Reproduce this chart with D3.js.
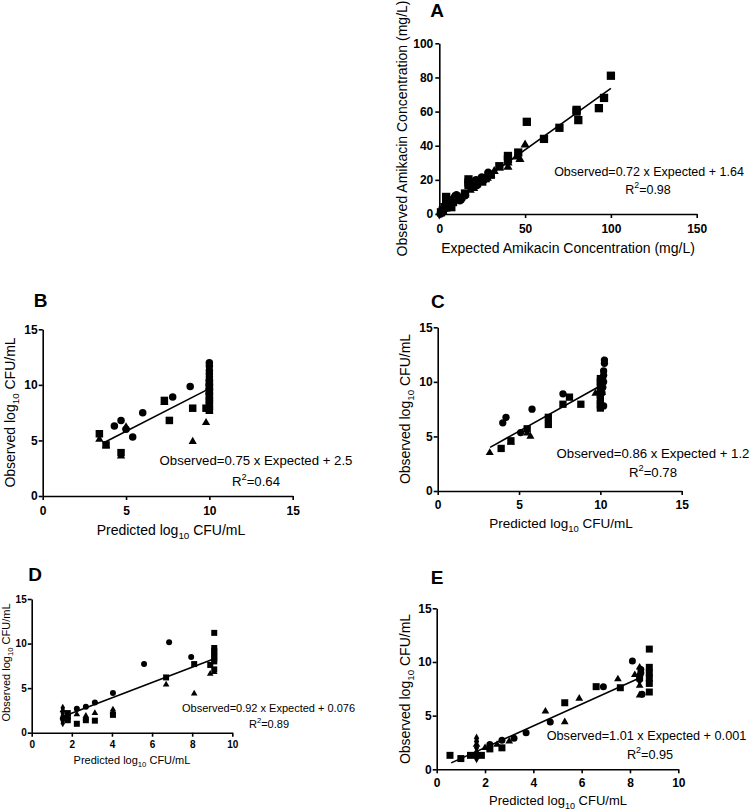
<!DOCTYPE html>
<html><head><meta charset="utf-8">
<script src="https://cdn.jsdelivr.net/npm/d3@7"></script>
<style>body{margin:0;background:#fff}svg{display:block}text{font-family:"Liberation Sans",Arial,sans-serif;fill:#000}</style>
</head><body><svg width="750" height="810"></svg>
<script>
// ---------- Panel A data (Expected vs Observed amikacin, mg/L) ----------
const aSquare = [[100,81],[96,68],[93,62],[80,61],[80,60],[81,55],[70,50.5],[61,44],[51,54],[46,36],[40,34],[40,32],[35,28],[30,23],[27,21],[25,19],[22,18],[20,17],[17,20.3],[17,18.5],[17,17],[15,12],[12,9],[10,10],[8,7],[6,6],[5,5],[4,10],[4,8],[3,4],[2,2],[1,1],[7,4],[5,7],[6,8]];
const aTriangle = [[50,40.5],[47,32],[45,33.5],[40,27.5],[40,30],[35,27],[30,23],[28,21],[25,20],[20,15],[18,14],[10,8],[6,5],[4,3],[2,1.5],[21,17],[32,25]];
const aCircle = [[28.5,24.2],[24.7,21.4],[21.4,19.9],[26,20],[22,17],[20,16],[15,11],[13,9],[12,8],[10,11],[9,10],[7,7],[5,4],[3,3],[1,1],[11,9]];
const aDiamond = [[0,0],[1,0.5],[2,1],[3,2],[0.5,1]];
const aFit = [[0,1.64],[100,73.64]];

// ---------- Panel B ----------
const bSquare = [[3.4,5.6],[3.8,4.6],[4.7,3.9],[7.3,8.6],[7.6,6.8],[9.0,7.9],[9.8,7.9],[10,7.8],[10,8.2],[10,8.6],[10,9.0],[10,9.4],[10,9.8],[10,10.2]];
const bTriangle = [[3.4,5.1],[3.8,4.5],[4.7,3.6],[5.0,6.2],[7.3,8.4],[9.0,4.9],[9.8,6.6],[10,7.6],[10,8.0],[10,8.8]];
const bCircle = [[4.3,6.3],[4.7,6.8],[5.0,6.0],[5.4,5.3],[6.0,7.5],[7.8,8.9],[8.85,9.85],[10,12],[10,11.7],[10,11.3],[10,11.0],[10,10.7],[10,10.4],[10,10.0],[10,9.6],[10,9.2]];
const bDiamond = [[10,11.9],[10,11.5],[10,10.9],[10,10.5],[10,9.9]];
const bFit = [[3.6,4.75],[9.85,9.55]];

// ---------- Panel C ----------
const cSquare = [[3.9,3.9],[4.5,4.6],[5.5,5.7],[6.8,6.75],[6.8,6.1],[7.7,7.95],[8.1,8.6],[8.8,7.95],[10,10.3],[10,10.0],[10,9.6],[10,9.2],[10,8.8],[10,8.4],[10,8.0],[10,7.6]];
const cTriangle = [[3.2,3.5],[4.5,4.45],[5.5,5.3],[5.7,5.0],[9.7,8.95],[10,7.8],[10,8.2],[10.1,9.0]];
const cCircle = [[4.0,6.25],[4.2,6.75],[5.1,5.35],[5.8,7.5],[7.7,8.9],[10.25,12.0],[10.25,11.7],[10.2,11.0],[10.2,10.6],[10.2,10.0],[10.15,9.5],[10.2,7.8],[10.1,9.0]];
const cDiamond = [[10.2,11.9],[10.2,10.3],[10.1,9.8]];
const cFit = [[3.22,4.0],[9.98,9.62]];

// ---------- Panel D ----------
const dSquare = [[1.8,2.2],[1.8,1.8],[1.8,1.4],[2.25,1.0],[2.7,1.4],[3.15,1.35],[4.05,2.0],[6.7,6.2],[8.1,7.7],[8.9,7.6],[9.1,11.2],[9.1,9.5],[9.1,9.2],[9.1,8.9],[9.1,8.6],[9.1,8.3],[9.1,8.0],[9.1,7.1]];
const dTriangle = [[1.55,2.5],[2.25,2.05],[2.7,1.9],[2.7,1.6],[3.15,2.2],[4.05,2.6],[4.05,2.3],[6.7,5.4],[8.1,4.4],[8.9,6.6],[9.1,6.8]];
const dCircle = [[2.25,2.7],[2.7,2.9],[3.15,3.4],[4.05,4.45],[5.6,7.7],[6.85,10.15],[7.95,8.5],[1.55,1.6]];
const dDiamond = [[1.55,2.8],[1.55,2.2],[1.55,1.9],[1.55,1.3],[1.55,1.05]];
const dFit = [[1.5,1.75],[9.1,8.3]];

// ---------- Panel E ----------
const eSquare = [[0.55,1.3],[1.0,1.0],[1.4,1.3],[1.85,1.3],[2.2,1.9],[2.7,2.0],[5.3,6.2],[6.6,7.7],[7.6,7.6],[8.8,11.2],[8.8,9.5],[8.8,9.0],[8.8,8.5],[8.8,8.0],[8.8,7.2],[8.4,8.5]];
const eTriangle = [[1.65,2.3],[1.65,1.6],[2.0,2.0],[2.5,2.3],[3.0,2.6],[4.5,5.4],[5.3,4.4],[5.9,6.6],[7.5,8.4],[8.2,8.8],[8.4,9.5],[8.4,8.9],[8.4,7.8],[8.4,6.9]];
const eCircle = [[2.2,2.3],[2.7,2.7],[3.2,2.9],[3.7,3.4],[4.7,4.4],[6.9,7.7],[8.1,10.1],[8.45,9.3],[8.45,9.0],[8.4,8.7],[8.5,7.0],[1.65,1.3]];
const eDiamond = [[1.65,2.9],[1.65,2.6],[1.65,2.0],[1.65,1.0],[8.4,8.2]];
const eFit = [[0.6,0.6],[8.35,8.45]];

// ---------- labels ----------
const panelLetters = ["A","B","C","D","E"];
const equations = ["Observed=0.72 x Expected + 1.64","Observed=0.75 x Expected + 2.5","Observed=0.86 x Expected + 1.2","Observed=0.92 x Expected + 0.076","Observed=1.01 x Expected + 0.001"];
const r2Values = ["0.98","0.64","0.78","0.89","0.95"];
const ticksA_x = [0,50,100,150], ticksA_y = [0,20,40,60,80,100];
const ticks15 = [0,5,10,15], ticks10 = [0,2,4,6,8,10];

// ---------- layout ----------
const svg = d3.select("svg");
const panels = [
 {left:439.3,right:696.7,top:43.3,bottom:214, xd:[0,150], yd:[0,100], xt:ticksA_x, yt:ticksA_y,
  data:[aSquare,aTriangle,aCircle,aDiamond], fit:aFit, ms:8.3, tickFs:12, xPad:6.5, yPad:2,
  letter:[437,17], eq:[649,175.5,12.5], r2:[648,193.5],
  xTitle:{x:568,y:253,fs:14,text:"Expected Amikacin Concentration (mg/L)"},
  yTitle:{x:406.5,y:128.5,fs:14,text:"Observed Amikacin Concentration (mg/L)"}},
 {left:42.7,right:292.7,top:329.3,bottom:496, xd:[0,15], yd:[0,15], xt:ticks15, yt:ticks15,
  data:[bSquare,bTriangle,bCircle,bDiamond], fit:bFit, ms:7.5, tickFs:12, xPad:6, yPad:1,
  letter:[40.7,307], eq:[256,464.5,13.2], r2:[256,485.5],
  xTitle:{x:171,y:535,fs:14,log:true,pre:"Predicted log"},
  yTitle:{x:15,y:412.5,fs:14,log:true,pre:"Observed log"}},
 {left:437.7,right:681.7,top:327.3,bottom:491, xd:[0,15], yd:[0,15], xt:ticks15, yt:ticks15,
  data:[cSquare,cTriangle,cCircle,cDiamond], fit:cFit, ms:7.3, tickFs:12, xPad:5, yPad:1,
  letter:[437.8,308], eq:[653,458.3,13.2], r2:[653,476.7],
  xTitle:{x:561,y:528,fs:13.5,log:true,pre:"Predicted log"},
  yTitle:{x:410,y:409,fs:14,log:true,pre:"Observed log"}},
 {left:31.7,right:232.3,top:599,bottom:732.7, xd:[0,10], yd:[0,15], xt:ticks10, yt:ticks15,
  data:[dSquare,dTriangle,dCircle,dDiamond], fit:dFit, ms:6, tickFs:10, xPad:4, yPad:1,
  letter:[35,580.5], eq:[268.5,711.5,11], r2:[269,728],
  xTitle:{x:132,y:764,fs:11,log:true,pre:"Predicted log"},
  yTitle:{x:10,y:662.5,fs:11,log:true,pre:"Observed log"}},
 {left:436.7,right:678.3,top:608.3,bottom:769.3, xd:[0,10], yd:[0,15], xt:ticks10, yt:ticks15,
  data:[eSquare,eTriangle,eCircle,eDiamond], fit:eFit, ms:7, tickFs:12, xPad:5.5, yPad:1,
  letter:[437,584], eq:[646.5,740,12.7], r2:[650,759],
  xTitle:{x:558,y:805,fs:13,log:true,pre:"Predicted log"},
  yTitle:{x:410,y:689,fs:14,log:true,pre:"Observed log"}}
];
const symbolTypes = [d3.symbolSquare, d3.symbolTriangle, d3.symbolCircle, d3.symbolDiamond];
const areaFactor = [1, 0.5, Math.PI/4, 0.5];

function addTitle(g, t, rotate){
  const txt = g.append("text").attr("text-anchor","middle").attr("font-size",t.fs)
    .attr("transform", rotate ? `translate(${t.x},${t.y}) rotate(-90)` : `translate(${t.x},${t.y})`);
  if(t.log){
    txt.append("tspan").text(t.pre);
    txt.append("tspan").attr("font-size",t.fs*0.7).attr("dy",t.fs*0.27).text("10");
    txt.append("tspan").attr("dy",-t.fs*0.27).text(" CFU/mL");
  } else {
    txt.text(t.text);
  }
}

panels.forEach((p,i)=>{
  const x = d3.scaleLinear().domain(p.xd).range([p.left,p.right]);
  const y = d3.scaleLinear().domain(p.yd).range([p.bottom,p.top]);
  const g = svg.append("g");
  // points
  p.data.forEach((arr,k)=>{
    const sym = d3.symbol().type(symbolTypes[k]).size(p.ms*p.ms*areaFactor[k]*(k===1?1.05:1));
    g.append("g").selectAll("path").data(arr).join("path")
      .attr("transform",d=>`translate(${x(d[0])},${y(d[1])})`)
      .attr("d",sym).attr("fill","#000");
  });
  // fit line
  g.append("path").attr("d", d3.line().x(d=>x(d[0])).y(d=>y(d[1]))(p.fit))
    .attr("stroke","#000").attr("stroke-width",1.6).attr("fill","none");
  // axes
  const xa = g.append("g").attr("transform",`translate(0,${p.bottom})`)
    .call(d3.axisBottom(x).tickValues(p.xt).tickSize(4).tickSizeOuter(0).tickPadding(p.xPad).tickFormat(d3.format("d")));
  const ya = g.append("g").attr("transform",`translate(${p.left},0)`)
    .call(d3.axisLeft(y).tickValues(p.yt).tickSize(4).tickSizeOuter(0).tickPadding(p.yPad).tickFormat(d3.format("d")));
  [xa,ya].forEach(a=>{
    a.select(".domain").attr("stroke","#000").attr("stroke-width",1.6);
    a.selectAll(".tick line").attr("stroke","#000").attr("stroke-width",1.6);
    a.selectAll(".tick text").attr("fill","#000").attr("font-size",p.tickFs).attr("font-weight","bold")
      .attr("font-family","'Liberation Sans',Arial,sans-serif");
  });
  // titles
  addTitle(g, p.xTitle, false);
  addTitle(g, p.yTitle, true);
  // panel letter
  g.append("text").attr("x",p.letter[0]).attr("y",p.letter[1]).attr("text-anchor","middle")
    .attr("font-size",19).attr("font-weight","bold").text(panelLetters[i]);
  // equation
  g.append("text").attr("x",p.eq[0]).attr("y",p.eq[1]).attr("text-anchor","middle")
    .attr("font-size",p.eq[2]).text(equations[i]);
  const r = g.append("text").attr("x",p.r2[0]).attr("y",p.r2[1]).attr("text-anchor","middle").attr("font-size",p.eq[2]);
  r.append("tspan").text("R");
  r.append("tspan").attr("font-size",p.eq[2]*0.7).attr("dy",-p.eq[2]*0.45).text("2");
  r.append("tspan").attr("dy",p.eq[2]*0.45).text("=" + r2Values[i]);
});
</script></body></html>
